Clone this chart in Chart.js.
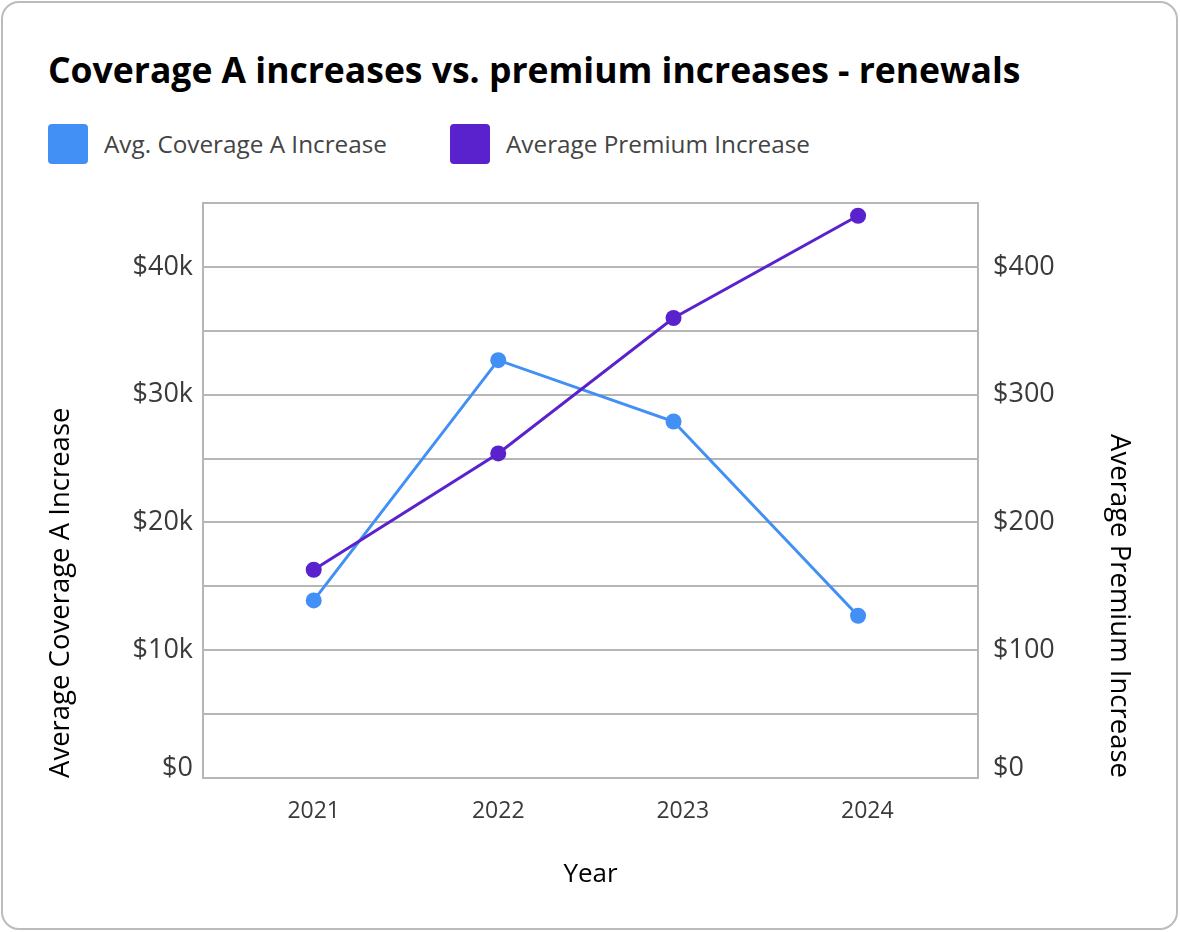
<!DOCTYPE html>
<html>
<head>
<meta charset="utf-8">
<script src="https://cdn.jsdelivr.net/npm/chart.js@4.4.1/dist/chart.umd.min.js"></script>
<style>
  html, body { margin: 0; padding: 0; background: #fff; }
  body { width: 1180px; height: 932px; position: relative; overflow: hidden; font-family: 'Open Sans', sans-serif; }
  .card { position: absolute; left: 1px; top: 1px; width: 1177px; height: 929px; box-sizing: border-box;
          border: 2px solid #bcbcbc; border-radius: 18px; }
  h1 { position: absolute; left: 48px; top: 49px; margin: 0; font-family: 'Open Sans', sans-serif; font-weight: 700;
       font-size: 35.5px; line-height: 40px; color: #000; white-space: nowrap; }
  .item { position: absolute; top: 124px; height: 40px; display: flex; align-items: center; }
  .sw { width: 40px; height: 40px; border-radius: 4px; margin-right: 16px; flex: none; }
  .lt { font-size: 24.3px; color: #444; white-space: nowrap; line-height: 40px; }
  canvas { position: absolute; left: 0; top: 0; }
</style>
</head>
<body>
<div class="card"></div>
<h1 id="title"></h1>
<div id="legend"></div>
<canvas id="c" width="1180" height="932"></canvas>
<script>
const chartTitle = 'Coverage A increases vs. premium increases - renewals';
const seriesNames = ['Avg. Coverage A Increase', 'Average Premium Increase'];
const seriesColors = ['#4290F5', '#5A22CC'];
const years = [2021, 2022, 2023, 2024];
const pointYears = [2021, 2022, 2022.95, 2023.95];
const coverageIncrease = [13900, 32700, 27900, 12700];
const premiumIncrease = [163, 254, 360, 440];
const coverageTickValues = [0, 10000, 20000, 30000, 40000];
const coverageTickLabels = ['$0', '$10k', '$20k', '$30k', '$40k'];
const premiumTickValues = [0, 100, 200, 300, 400];
const premiumTickLabels = ['$0', '$100', '$200', '$300', '$400'];
const xAxisTitle = 'Year';
const leftAxisTitle = 'Average Coverage A Increase';
const rightAxisTitle = 'Average Premium Increase';

document.getElementById('title').textContent = chartTitle;
const legendEl = document.getElementById('legend');
const legendLefts = [48, 450];
seriesNames.forEach((n, i) => {
  const it = document.createElement('div'); it.className = 'item'; it.style.left = legendLefts[i] + 'px';
  const sw = document.createElement('div'); sw.className = 'sw'; sw.style.background = seriesColors[i];
  const t = document.createElement('span'); t.className = 'lt'; t.textContent = n;
  it.appendChild(sw); it.appendChild(t); legendEl.appendChild(it);
});

const GRID = '#b6b6b6';
const tickColor = '#3a3a3a';
const FONT = 'Open Sans';
function tickLabel(values, labels) {
  return function (v) {
    const i = values.indexOf(v);
    if (i < 0) return '';
    return v === 0 ? [labels[i], ''] : labels[i];
  };
}

new Chart(document.getElementById('c'), {
  type: 'line',
  data: {
    datasets: [
      {
        label: seriesNames[0],
        data: coverageIncrease.map((v, i) => ({ x: pointYears[i], y: v })),
        yAxisID: 'yL', borderColor: seriesColors[0], backgroundColor: seriesColors[0],
        borderWidth: 3, pointRadius: 8, pointBorderWidth: 0, pointBackgroundColor: seriesColors[0],
        tension: 0, order: 2
      },
      {
        label: seriesNames[1],
        data: premiumIncrease.map((v, i) => ({ x: pointYears[i], y: v })),
        yAxisID: 'yR', borderColor: seriesColors[1], backgroundColor: seriesColors[1],
        borderWidth: 3, pointRadius: 8, pointBorderWidth: 0, pointBackgroundColor: seriesColors[1],
        tension: 0, order: 1
      }
    ]
  },
  options: {
    responsive: false, animation: false,
    layout: { padding: { top: 203, left: 0, right: 0, bottom: 0 } },
    plugins: { legend: { display: false }, tooltip: { enabled: false } },
    scales: {
      x: {
        type: 'linear', min: 2020.4, max: 2024.6,
        afterBuildTicks: s => { s.ticks = years.map(v => ({ value: v })); },
        afterFit: s => { s.height = 154; },
        grid: { display: false, drawTicks: false },
        border: { display: true, color: GRID, width: 2 },
        ticks: { color: tickColor, font: { family: FONT, size: 23 }, padding: 20,
                 callback: v => String(v), autoSkip: false, maxRotation: 0 },
        title: { display: true, text: xAxisTitle, color: '#000', font: { family: FONT, size: 26 },
                 padding: { top: 0, bottom: 42 } }
      },
      yL: {
        type: 'linear', position: 'left', min: 0, max: 45000,
        afterFit: s => { s.width = 203; },
        ticks: { stepSize: 5000, color: tickColor, font: { family: FONT, size: 27, lineHeight: 0.7 }, padding: 10,
                 callback: tickLabel(coverageTickValues, coverageTickLabels), autoSkip: false },
        grid: { color: GRID, lineWidth: 2, drawTicks: false },
        border: { display: true, color: GRID, width: 2 },
        title: { display: true, text: leftAxisTitle, color: '#000', align: 'start',
                 font: { family: FONT, size: 27.5 }, padding: { top: 45, bottom: 0 } }
      },
      yR: {
        type: 'linear', position: 'right', min: 0, max: 450,
        afterFit: s => { s.width = 202; },
        ticks: { stepSize: 50, color: tickColor, font: { family: FONT, size: 27, lineHeight: 0.7 }, padding: 15,
                 callback: tickLabel(premiumTickValues, premiumTickLabels), autoSkip: false },
        grid: { display: false, drawTicks: false },
        border: { display: true, color: GRID, width: 2 },
        title: { display: true, text: rightAxisTitle, color: '#000', align: 'start',
                 font: { family: FONT, size: 27.5 }, padding: { top: 45, bottom: 0 } }
      }
    }
  }
});
</script>
</body>
</html>
